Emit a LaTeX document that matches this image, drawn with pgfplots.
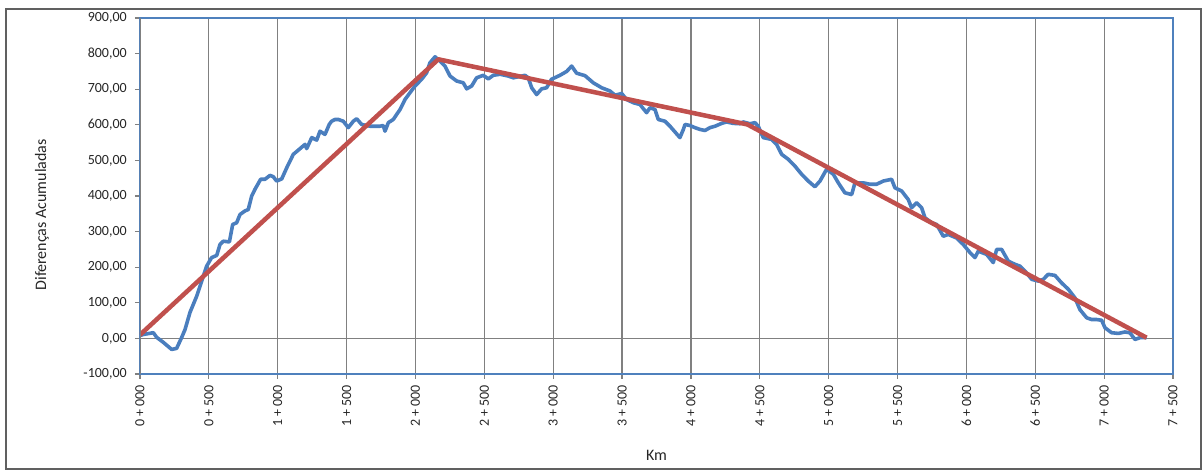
\documentclass[border=0pt]{standalone}
\usepackage{fontspec}
\setmainfont{Carlito}
\usepackage{pgfplots}
\pgfplotsset{compat=1.18}
\definecolor{xlblue}{RGB}{74,126,190}
\definecolor{xlred}{RGB}{192,80,77}
\definecolor{frameblue}{RGB}{79,129,189}
\definecolor{gridgray}{RGB}{128,128,128}
\begin{document}
\begin{tikzpicture}
\useasboundingbox (-105pt,-72.75pt) rectangle (798pt,280.5pt);
\draw[gray!75!black, line width=1.2pt] (-100.5pt,-71.25pt) rectangle (795.75pt,273.75pt);
\begin{axis}[
  at={(0,0)}, anchor=south west, scale only axis,
  width=774.75pt, height=267pt,
  xmin=0, xmax=7500, ymin=-100, ymax=900,
  xtick={0,500,...,7500},
  xticklabels={0 + 000, 0 + 500, 1 + 000, 1 + 500, 2 + 000, 2 + 500, 3 + 000, 3 + 500, 4 + 000, 4 + 500, 5 + 000, 5 + 500, 6 + 000, 6 + 500, 7 + 000, 7 + 500},
  ytick={-100,0,...,900},
  /pgf/number format/assume math mode=true,
  yticklabel style={/pgf/number format/fixed, /pgf/number format/fixed zerofill, /pgf/number format/precision=2, /pgf/number format/use comma, /pgf/number format/1000 sep={}, anchor=east, inner sep=0pt},
  ticklabel style={font=\fontsize{10.5}{12}\selectfont, text=black!85},
  xticklabel style={rotate=90, anchor=east, inner sep=0pt},
  xticklabel shift=4.5pt,
  yticklabel shift=6pt,
  xtick pos=bottom, ytick pos=left,
  tick align=outside,
  major tick length=3.75pt,
  tick style={gridgray, line width=0.9pt},
  xmajorgrids,
  grid style={gridgray, line width=0.9pt},
  extra y ticks={0}, extra y tick labels={},
  extra y tick style={grid=major, major tick length=0pt},
  axis line style={frameblue, line width=1.1pt},
  xlabel={Km}, ylabel={Diferenças Acumuladas},
  label style={font=\fontsize{12}{14}\selectfont, text=black!85},
  xlabel style={at={(axis description cs:0.5,0)}, anchor=center, yshift=-60.75pt},
  ylabel style={at={([xshift=-73.5pt]axis description cs:0,0.447)}, anchor=center},
]
\addplot[xlblue, line width=2.7pt, line join=round] coordinates {
(0,8) (24,11) (97,16) (121,3) (169,-11) (230,-31) (266,-28) (303,3) (327,25) (363,73)
(412,119) (460,175) (484,203) (520,227) (557,233) (581,264) (605,273) (649,271) (673,320)
(702,325) (726,348) (762,358) (786,362) (811,400) (835,419) (876,447) (908,447) (944,458)
(968,454) (992,442) (1029,448) (1065,479) (1113,517) (1162,533) (1198,545) (1210,533)
(1247,564) (1283,557) (1307,582) (1343,573) (1374,601) (1391,610) (1416,615) (1440,615)
(1476,610) (1512,592) (1549,610) (1573,617) (1609,601) (1670,596) (1742,596) (1766,598)
(1779,582) (1803,606) (1839,615) (1888,643) (1924,671) (1960,690) (1997,709) (2045,728)
(2081,746) (2105,774) (2142,791) (2178,779) (2214,765) (2251,737) (2299,723) (2347,718)
(2372,701) (2408,709) (2444,732) (2492,739) (2529,729) (2565,739) (2614,742) (2674,737)
(2711,732) (2795,739) (2819,732) (2844,704) (2880,685) (2916,701) (2952,704) (2988,728)
(3049,739) (3098,750) (3134,765) (3170,745) (3231,738) (3291,718) (3352,704) (3412,695)
(3449,683) (3497,688) (3533,671) (3582,662) (3630,657) (3678,634) (3703,648) (3739,643)
(3763,615) (3812,610) (3848,596) (3884,580) (3920,564) (3945,587) (3957,601) (3993,598)
(4029,592) (4066,587) (4102,584) (4138,592) (4175,596) (4223,604) (4259,608) (4307,604)
(4356,603) (4380,608) (4428,603) (4465,606) (4489,596) (4525,564) (4586,559) (4622,545)
(4659,517) (4707,503) (4755,484) (4804,461) (4852,442) (4900,426) (4937,442) (4985,475)
(5034,461) (5070,437) (5118,409) (5167,404) (5191,437) (5251,437) (5300,433) (5348,433)
(5397,442) (5457,447) (5481,423) (5530,414) (5578,390) (5602,367) (5639,381) (5675,367)
(5699,339) (5747,325) (5784,320) (5832,287) (5868,292) (5929,282) (5977,264) (6026,241)
(6062,227) (6086,245) (6147,236) (6195,213) (6220,250) (6256,250) (6304,217) (6353,208)
(6389,203) (6437,184) (6474,166) (6522,161) (6558,166) (6594,180) (6643,177) (6691,156)
(6740,138) (6788,114) (6824,81) (6873,58) (6909,53) (6945,53) (6982,51) (7006,30)
(7054,16) (7103,14) (7151,18) (7187,16) (7224,-3) (7260,2) (7308,2)
};
\addplot[xlred, line width=3.4pt, line join=round] coordinates {
(0,10) (2166,784) (4410,601) (7308,2)
};
\draw[gridgray, line width=1pt] (rel axis cs:0,0) -- (rel axis cs:0,1);
\end{axis}
\end{tikzpicture}
\end{document}
